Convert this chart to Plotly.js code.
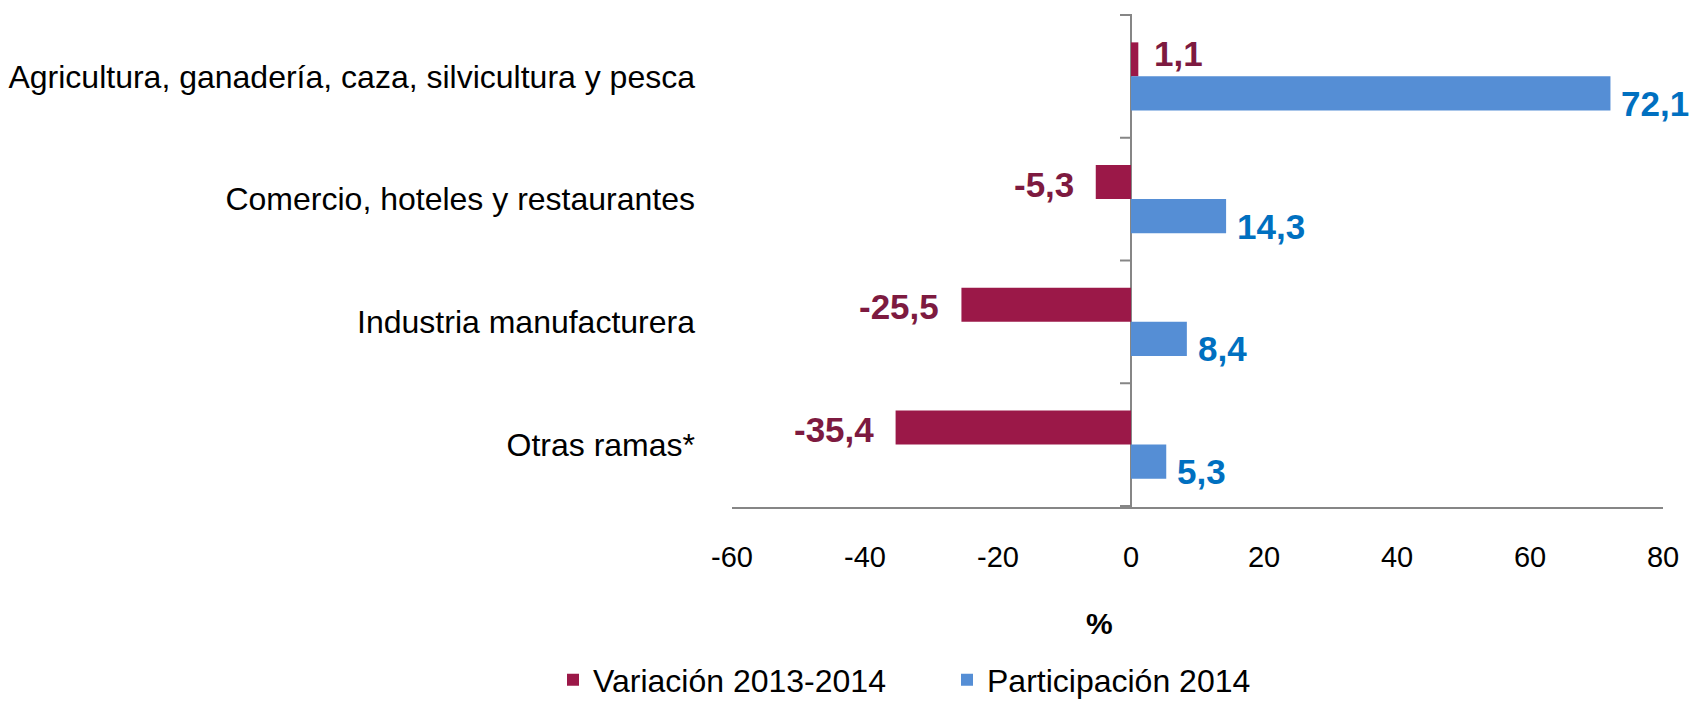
<!DOCTYPE html>
<html>
<head>
<meta charset="utf-8">
<script src="https://cdn.plot.ly/plotly-3.0.1.min.js"></script>
<style>html,body{margin:0;padding:0;background:#fff;}#chart{width:1692px;height:701px;}</style>
</head>
<body>
<div id="chart"></div>
<script>
const categories = [
  "Agricultura, ganadería, caza, silvicultura y pesca",
  "Comercio, hoteles y restaurantes",
  "Industria manufacturera",
  "Otras ramas*"
];
const variacion = [1.1, -5.3, -25.5, -35.4];
const participacion = [72.1, 14.3, 8.4, 5.3];
const seriesNames = ["Variación 2013-2014", "Participación 2014"];
const xTicks = [-60, -40, -20, 0, 20, 40, 60, 80];

const FONT = "'Liberation Sans', Arial, sans-serif";
const RED = "#9B1848", RED_TXT = "#7D1A40";
const BLUE = "#558ED5", BLUE_TXT = "#0070C0";
const AXIS = "#868686";
const xMin = -60, xMax = 80;
const BARGAP = 0.446;

const fmt = v => v.toFixed(1).replace('.', ',');

const traces = [
  {type: 'bar', orientation: 'h', name: seriesNames[0], y: categories, x: variacion,
   marker: {color: RED}, hoverinfo: 'x+y'},
  {type: 'bar', orientation: 'h', name: seriesNames[1], y: categories, x: participacion,
   marker: {color: BLUE}, hoverinfo: 'x+y'}
];

const annotations = [];
const n = categories.length;
const pairOffset = 0.5 * (1 - BARGAP) / 2; // half of one bar in category units
variacion.forEach((v, i) => {
  annotations.push({
    x: v, y: i - pairOffset, xref: 'x', yref: 'y',
    text: '<b>' + fmt(v) + '</b>', showarrow: false,
    xanchor: v >= 0 ? 'left' : 'right', yanchor: 'middle',
    xshift: v >= 0 ? 14 : -20, yshift: v >= 0 ? 6 : -2,
    font: {family: FONT, size: 35, color: RED_TXT}
  });
});
participacion.forEach((v, i) => {
  annotations.push({
    x: v, y: i + pairOffset, xref: 'x', yref: 'y',
    text: '<b>' + fmt(v) + '</b>', showarrow: false,
    xanchor: 'left', yanchor: 'middle',
    xshift: 9, yshift: -10,
    font: {family: FONT, size: 35, color: BLUE_TXT}
  });
});
annotations.push({
  text: '<b>%</b>', xref: 'paper', yref: 'paper', x: 0.395, y: -0.237,
  xanchor: 'center', yanchor: 'middle', showarrow: false,
  font: {family: FONT, size: 30, color: '#000'}
});

// category boundary tick marks on the zero line
const shapes = [];
for (let k = 0; k <= n; k++) {
  shapes.push({
    type: 'line', xref: 'x', yref: 'y', xsizemode: 'pixel', xanchor: 0,
    x0: -11, x1: 0, y0: k - 0.5, y1: k - 0.5,
    line: {color: AXIS, width: 2}, layer: 'above'
  });
}

const layout = {
  width: 1692, height: 701,
  margin: {l: 732, r: 29, t: 14, b: 194, pad: 0},
  paper_bgcolor: '#fff', plot_bgcolor: '#fff',
  barmode: 'group', bargap: BARGAP, bargroupgap: 0,
  font: {family: FONT, size: 29, color: '#000'},
  xaxis: {
    range: [xMin, xMax], tickvals: xTicks, ticktext: xTicks.map(String),
    showgrid: false, zeroline: true, zerolinecolor: AXIS, zerolinewidth: 2,
    showline: true, linecolor: AXIS, linewidth: 2,
    ticks: '', ticklabelstandoff: 23, tickfont: {family: FONT, size: 29, color: '#000'},
    automargin: false
  },
  yaxis: {
    type: 'category', categoryorder: 'array', categoryarray: categories,
    autorange: 'reversed', showgrid: false, zeroline: false, showline: false,
    ticks: '', ticklabelstandoff: 36, tickfont: {family: FONT, size: 32, color: '#000'},
    automargin: false
  },
  showlegend: true,
  legend: {
    orientation: 'h', xref: 'container', yref: 'container',
    x: 553 / 1692, y: 1 - 680 / 701, xanchor: 'left', yanchor: 'middle',
    font: {family: FONT, size: 32, color: '#000'}, itemwidth: 30, tracegroupgap: 0,
    entrywidth: 349, entrywidthmode: 'pixels',
    traceorder: 'normal'
  },
  shapes: shapes,
  annotations: annotations
};

Plotly.newPlot('chart', traces, layout, {displayModeBar: false, responsive: false});
</script>
</body>
</html>
